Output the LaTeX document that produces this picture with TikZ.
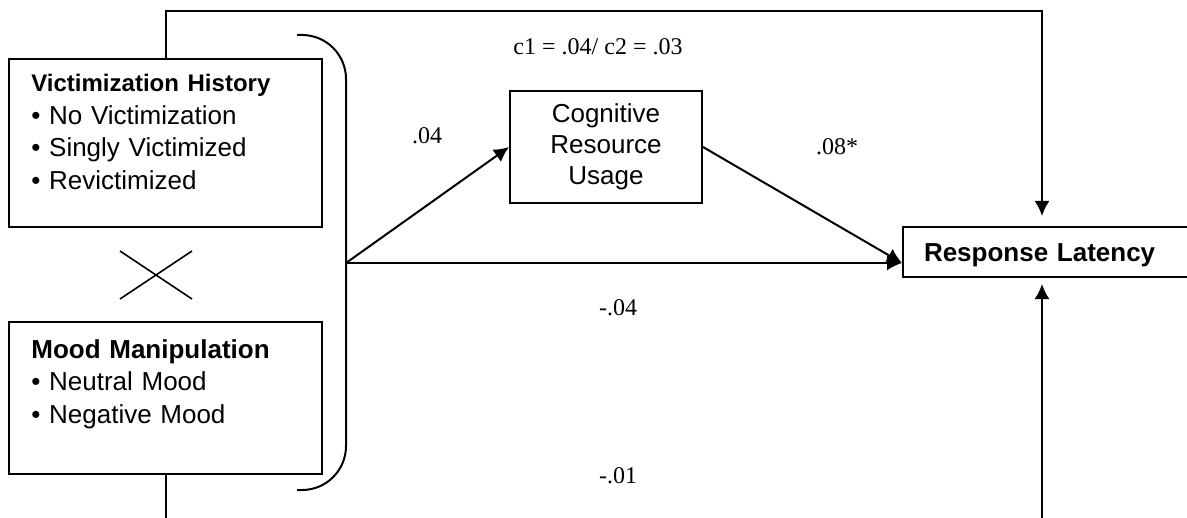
\documentclass[tikz,border=0pt]{standalone}
\usepackage{fontspec}
\setmainfont{Liberation Serif}
\setsansfont{Liberation Sans}
\usepackage{tikz}
\usetikzlibrary{shapes,arrows.meta}
\tikzstyle{line} = [draw, line width=1pt, -{Latex[length=7.5pt,width=7.5pt]}]
\tikzstyle{box} = [draw, line width=1pt, rectangle, inner sep=0pt]
\tikzstyle{coef} = [font=\fontsize{12}{14}\selectfont, inner sep=0pt]
\tikzstyle{item} = [anchor=north west, align=left, text width=140pt, inner sep=0pt, font=\sffamily\fontsize{13}{16.25}\selectfont]

\begin{document}
\begin{tikzpicture}[x=0.5pt, y=-0.5pt]
		\useasboundingbox (0,0) rectangle (1187,518);
		\clip (0,0) rectangle (1187,518);
		% the two predictors
		\node [box, minimum width=156.5pt, minimum height=84pt] (vict) at (165.5,143) {};
		\node [item] (victtext) at (31,74) {{\bfseries\fontsize{12}{16.25}\selectfont Victimization History}\\
			\textbullet\ No Victimization\\ \textbullet\ Singly Victimized\\ \textbullet\ Revictimized};
		\node [box, minimum width=156.5pt, minimum height=76pt] (mood) at (165.5,398) {};
		\node [item] (moodtext) at (31,339) {{\bfseries Mood Manipulation}\\
			\textbullet\ Neutral Mood\\ \textbullet\ Negative Mood};
		\draw [line width=0.8pt] (120,251) -- (192,299) (120,299) -- (192,251);
		\draw [line width=1pt, rounded corners=22pt] (297,35) -- (346,35) -- (346,490) -- (297,490);
		\coordinate (brk) at (346,263);
		% mediator and outcome
		\node [box, minimum width=96pt, minimum height=56pt, align=center, font=\sffamily\fontsize{13}{15.5}\selectfont] (cog) at (606,147) {Cognitive\\Resource\\Usage};
		\node [box, anchor=west, minimum height=25pt, text width=150pt, inner xsep=10.5pt, text height=9.5pt, text depth=0pt, align=left, font=\sffamily\bfseries\fontsize{13}{15.5}\selectfont] (resp) at (902,252) {Response Latency};
		% paths
		\path [line] (brk) -- (cog.west);
		\path [line] (brk) -- (brk -| resp.west);
		\path [line] (cog.east) -- (brk -| resp.west);
		\coordinate (rt) at (1042,11);
		\coordinate (rb) at (1042,540);
		\path [line, shorten >=5pt] (vict.north) |- (rt) -- (rt |- resp.north);
		\path [line, shorten >=3pt] (mood.south) |- (rb) -- (rb |- resp.south);
		% coefficients
		\node [coef] (ctot) at (598,47) {c1 = .04/ c2 = .03};
		\node [coef] (apath) at (427,136) {.04};
		\node [coef] (bpath) at (837,147) {.08*};
		\node [coef] (cpath) at (618,308) {-.04};
		\node [coef] (dpath) at (618,476) {-.01};
\end{tikzpicture}
\end{document}
